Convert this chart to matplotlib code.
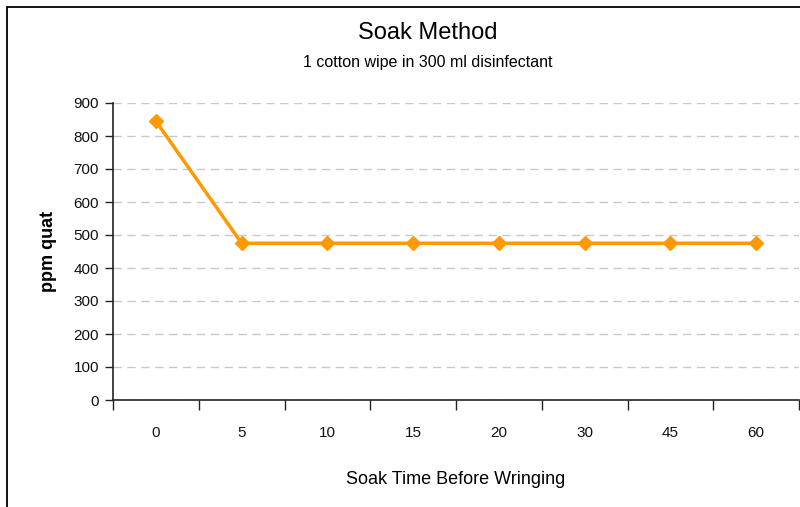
import matplotlib.pyplot as plt
import numpy as np
from matplotlib.patches import Rectangle

categories = ["0", "5", "10", "15", "20", "30", "45", "60"]
ppm_quat = [845, 475, 475, 475, 475, 475, 475, 475]
y_ticks = [0, 100, 200, 300, 400, 500, 600, 700, 800, 900]

FONT = ['Liberation Sans Narrow', 'Liberation Sans', 'DejaVu Sans']
plt.rcParams['font.family'] = FONT

fig = plt.figure(figsize=(8, 5.07), dpi=100)
ax = fig.add_axes([113 / 800, 107 / 507, 686 / 800, 297 / 507])

x = np.arange(len(categories))
ax.plot(x, ppm_quat, color='#FF9900', linewidth=2.5, marker='D', markersize=7,
        markeredgecolor='#FF9900', zorder=3)

ax.set_xlim(-0.5, len(categories) - 0.5)
ax.set_ylim(0, 900)
ax.set_yticks(y_ticks)
ax.yaxis.grid(True, linestyle=(0, (6, 4)), color='#c8c8c8', linewidth=1)
ax.set_axisbelow(True)

# category labels at centres, tick marks at the boundaries
ax.set_xticks(x)
ax.set_xticklabels(categories)
ax.set_xticks(np.arange(len(categories) + 1) - 0.5, minor=True)
ax.tick_params(axis='x', which='major', length=0, pad=19, labelsize=11, labelcolor='#111111')
ax.tick_params(axis='x', which='minor', length=7, width=1, color='#222222', direction='out')
ax.tick_params(axis='y', length=6, width=1, color='#222222', labelsize=11, labelcolor='#111111', pad=4)

for side in ['top', 'right']:
    ax.spines[side].set_visible(False)
for side in ['left', 'bottom']:
    ax.spines[side].set_color('#222222')
    ax.spines[side].set_linewidth(1.2)

ax.set_ylabel("ppm quat", fontsize=13, fontweight='bold', labelpad=12)
ax.set_xlabel("Soak Time Before Wringing", fontsize=13, labelpad=22)

fig.text(0.535, 1 - 33 / 507, "Soak Method", ha='center', va='center', fontsize=17)
fig.text(0.535, 1 - 63 / 507, "1 cotton wipe in 300 ml disinfectant", ha='center', va='center', fontsize=11.5)

# outer chart border (cut off at right and bottom)
fig.patches.append(Rectangle((7 / 800, -0.1), 1.1, 1 - 7 / 507 + 0.1, transform=fig.transFigure,
                             fill=False, edgecolor='black', linewidth=1.3))

fig.savefig("out.png", dpi=100)
